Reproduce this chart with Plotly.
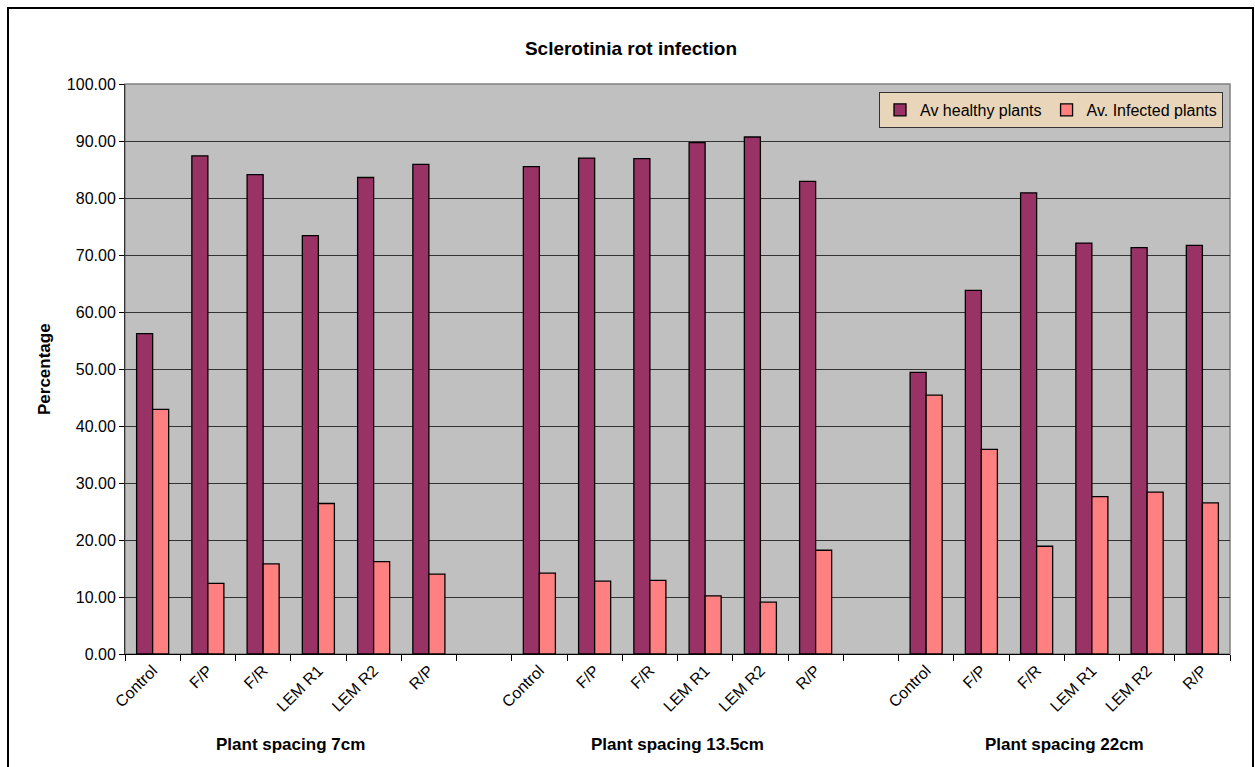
import plotly.graph_objects as go

# Treatments within each plant-spacing group
treatments = ["Control", "F/P", "F/R", "LEM R1", "LEM R2", "R/P"]
spacings = ["Plant spacing 7cm", "Plant spacing 13.5cm", "Plant spacing 22cm"]

# Average healthy plants (%) per spacing, in treatment order
healthy_7 = [56.2, 87.4, 84.1, 73.4, 83.6, 85.9]
healthy_13_5 = [85.5, 87.0, 86.9, 89.7, 90.7, 82.9]
healthy_22 = [49.4, 63.8, 80.9, 72.1, 71.3, 71.7]

# Average infected plants (%) per spacing, in treatment order
infected_7 = [42.9, 12.4, 15.8, 26.4, 16.2, 14.0]
infected_13_5 = [14.2, 12.8, 12.9, 10.2, 9.1, 18.2]
infected_22 = [45.4, 35.9, 18.9, 27.6, 28.4, 26.5]

y_ticks = [0, 10, 20, 30, 40, 50, 60, 70, 80, 90, 100]

healthy = [healthy_7, healthy_13_5, healthy_22]
infected = [infected_7, infected_13_5, infected_22]

# One slot per treatment, with an empty slot between spacing groups
slot_step = len(treatments) + 1
n_slots = slot_step * len(spacings) - 1
xs, hs, fs, labels = [], [], [], []
for gi in range(len(spacings)):
    for ci, t in enumerate(treatments):
        xs.append(gi * slot_step + ci)
        hs.append(healthy[gi][ci])
        fs.append(infected[gi][ci])
        labels.append(t)

FONT = "Liberation Sans, Arial, sans-serif"
W, H = 1255, 767
ML, MR, MT, MB = 125, 25, 84, 113
PW, PH = W - ML - MR, H - MT - MB


def px_x(p):
    return (p - ML) / PW


def px_y(p):
    return (H - MB - p) / PH


fig = go.Figure()
fig.add_trace(go.Bar(
    x=xs, y=hs, name="Av healthy plants",
    marker=dict(color="#993366", line=dict(color="#000000", width=1.3)),
))
fig.add_trace(go.Bar(
    x=xs, y=fs, name="Av. Infected plants",
    marker=dict(color="#FF8080", line=dict(color="#000000", width=1.3)),
))

annotations = []
# Group captions under the treatment labels
for gi, s in enumerate(spacings):
    centre = gi * slot_step + (len(treatments) - 1) / 2
    annotations.append(dict(
        x=centre, xref="x", y=px_y(744), yref="paper",
        text=f"<b>{s}</b>", showarrow=False,
        font=dict(family=FONT, size=17, color="#000000"),
        xanchor="center", yanchor="middle",
    ))
annotations.append(dict(
    x=px_x(44), xref="paper", y=0.5, yref="paper",
    text="<b>Percentage</b>", textangle=-90, showarrow=False,
    font=dict(family=FONT, size=17, color="#000000"),
    xanchor="center", yanchor="middle",
))

shapes = [
    # plot area border
    dict(type="rect", xref="paper", yref="paper", x0=0, x1=1, y0=0, y1=1,
         line=dict(color="#808080", width=1.5), fillcolor="rgba(0,0,0,0)", layer="below"),
    # chart frame
    dict(type="rect", xref="paper", yref="paper",
         x0=px_x(8), x1=px_x(1253), y0=px_y(790), y1=px_y(8),
         line=dict(color="#000000", width=2), fillcolor="rgba(0,0,0,0)"),
]

fig.update_layout(
    width=W, height=H,
    margin=dict(l=ML, r=MR, t=MT, b=MB),
    paper_bgcolor="#FFFFFF",
    plot_bgcolor="#C0C0C0",
    barmode="group", bargap=0.42, bargroupgap=0,
    font=dict(family=FONT, size=16, color="#000000"),
    title=dict(
        text="<b>Sclerotinia rot infection</b>",
        x=631 / W, xref="container", xanchor="center",
        y=1 - 48 / H, yref="container", yanchor="middle",
        font=dict(family=FONT, size=19, color="#000000"),
    ),
    legend=dict(
        orientation="h",
        x=px_x(1223), y=px_y(92), xanchor="right", yanchor="top",
        bgcolor="#E9D5B9", bordercolor="#333333", borderwidth=1,
        font=dict(family=FONT, size=16, color="#000000"),
        itemwidth=30, tracegroupgap=0,
    ),
    xaxis=dict(
        range=[-0.5, n_slots - 0.5],
        tickmode="array", tickvals=xs, ticktext=labels,
        tickangle=-45, ticks="",
        tickfont=dict(family=FONT, size=16, color="#000000"),
        showgrid=False, zeroline=False,
        showline=True, linecolor="#000000", linewidth=1,
        minor=dict(tick0=-0.5, dtick=1, ticks="outside", ticklen=6,
                   tickcolor="#000000", tickwidth=1, showgrid=False),
    ),
    yaxis=dict(
        range=[0, 100],
        tickmode="array", tickvals=y_ticks,
        ticktext=[f"{v:.2f}" for v in y_ticks],
        ticks="outside", ticklen=5, tickcolor="#000000",
        tickfont=dict(family=FONT, size=16, color="#000000"),
        showgrid=True, gridcolor="#333333", gridwidth=1,
        zeroline=False,
        showline=True, linecolor="#333333", linewidth=1,
    ),
    annotations=annotations,
    shapes=shapes,
)

fig.write_html("out.html")
